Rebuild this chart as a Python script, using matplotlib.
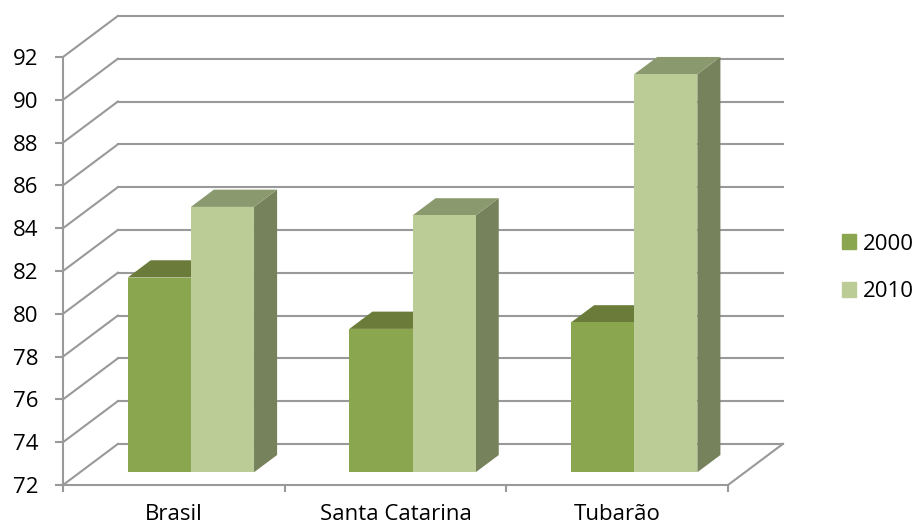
import numpy as np
import matplotlib.pyplot as plt
from matplotlib.patches import Patch

# dados
categorias = ['Brasil', 'Santa Catarina', 'Tubarão']
series = ['2000', '2010']
v2000 = [81.1, 78.7, 79.0]
v2010 = [84.4, 84.0, 90.6]
yticks = np.arange(72, 93, 2)

# cores (frente, topo, lado)
cores = {
    '2000': ('#8AA64F', '#6B7B39', '#6E7F40'),
    '2010': ('#BBCC96', '#8A9A6E', '#76825C'),
}
grid_cor = '#999999'
fs = 16

plt.rcParams['font.family'] = ['Open Sans', 'DejaVu Sans']

fig = plt.figure(figsize=(9.17, 5.28), dpi=100)
W, H = 917, 528
ax = fig.add_axes([63 / W, (H - 485) / H, (728 - 63) / W, (485 - 57) / H])
ax.set_xlim(0, 3)
ax.set_ylim(72, 92)

# profundidade do grafico 3D (em unidades de dados)
DX = 55 / 222
DY = 41 / 21.35

# paredes e grades
for v in yticks:
    ax.plot([DX, 3 + DX], [v + DY, v + DY], color=grid_cor, lw=1.5, clip_on=False, zorder=1)
    ax.plot([0, DX], [v, v + DY], color=grid_cor, lw=1.5, clip_on=False, zorder=1)
ax.plot([3, 3 + DX], [72, 72 + DY], color=grid_cor, lw=1.5, clip_on=False, zorder=1)

# barras
larg = 0.285
f0, f1 = 0.31, 0.73
for i in range(len(categorias)):
    for j, (nome, vals) in enumerate([('2000', v2000), ('2010', v2010)]):
        frente, topo, lado = cores[nome]
        x0 = i + 0.5 - larg + j * larg + f0 * DX
        x1 = x0 + larg
        yb = 72 + f0 * DY
        yt = vals[i] + f0 * DY
        ddx = (f1 - f0) * DX
        ddy = (f1 - f0) * DY
        ax.fill([x1, x1 + ddx, x1 + ddx, x1], [yb, yb + ddy, yt + ddy, yt],
                color=lado, lw=0, clip_on=False, zorder=2 + i)
        ax.fill([x0, x1, x1 + ddx, x0 + ddx], [yt, yt, yt + ddy, yt + ddy],
                color=topo, lw=0, clip_on=False, zorder=2 + i)
        ax.fill([x0, x1, x1, x0], [yb, yb, yt, yt],
                color=frente, lw=0, clip_on=False, zorder=2 + i)

# eixos
for s in ['top', 'right']:
    ax.spines[s].set_visible(False)
for s in ['left', 'bottom']:
    ax.spines[s].set_color(grid_cor)
    ax.spines[s].set_linewidth(1.5)
ax.set_facecolor('none')
ax.set_yticks(yticks)
ax.set_xticks([0, 1, 2, 3])
ax.set_xticklabels([])
ax.set_xticks([0.5, 1.5, 2.5], minor=True)
ax.set_xticklabels(categorias, minor=True)
ax.tick_params(axis='x', which='major', length=5, width=1.5, color=grid_cor)
ax.tick_params(axis='x', which='minor', length=0, pad=14, labelsize=fs)
ax.tick_params(axis='y', length=6, width=1.5, color=grid_cor, pad=12, labelsize=fs)

# legenda
handles = [Patch(color=cores[s][0]) for s in series]
fig.legend(handles, series, loc='center left', bbox_to_anchor=(822 / W, 1 - 268 / H),
           frameon=False, fontsize=fs, handlelength=0.65, handleheight=0.65,
           handletextpad=0.3, labelspacing=1.2)

fig.savefig('out.png', dpi=100)
